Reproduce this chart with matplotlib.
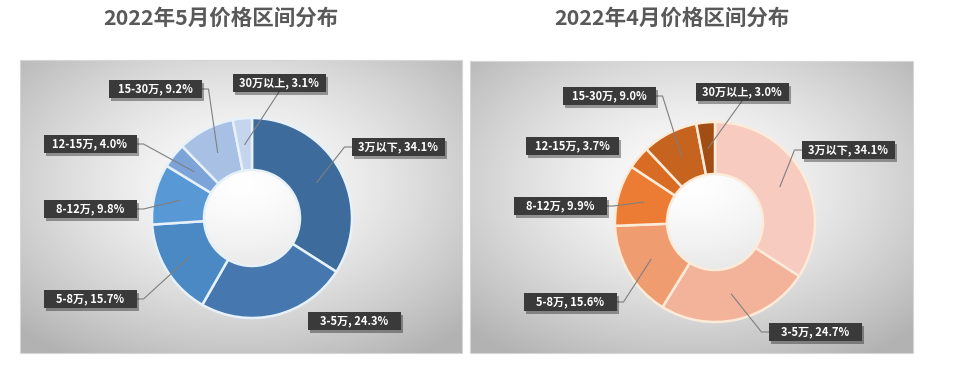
import numpy as np
import matplotlib.pyplot as plt
import matplotlib.patheffects as pe
from matplotlib.patches import Rectangle

plt.rcParams['font.family'] = ['Noto Sans CJK SC', 'DejaVu Sans']

#Data
categories = ['3万以下', '3-5万', '5-8万', '8-12万', '12-15万', '15-30万', '30万以上']
may_share = [34.1, 24.3, 15.7, 9.8, 4.0, 9.2, 3.1]
apr_share = [34.1, 24.7, 15.6, 9.9, 3.7, 9.0, 3.0]
titles = ['2022年5月价格区间分布', '2022年4月价格区间分布']

#Styles
may_colors = ['#3D6B9C', '#4677AE', '#4B89C5', '#5898D5', '#7CA4D9', '#A8C0E3', '#C6D5EE']
apr_colors = ['#F7CBBF', '#F3B39A', '#EE9C70', '#EC7C33', '#D96C24', '#C5631F', '#A24D14']
edge_colors = ['#E6F1FA', '#FDEBD9']

W, H = 960, 373

#Layout in pixels from top-left
panels = [(20, 60, 442, 293), (470, 61, 443, 292)]
centers = [(252, 218), (715, 222)]
title_x = [221, 672]
label_pos = [
    [(398, 147), (354, 321), (90, 299), (90, 209), (90, 144), (155, 89), (279, 83)],
    [(848, 150), (815, 332), (570, 302), (560, 206), (572, 146), (609, 96), (742, 92)],
]
show_leader = [
    [True, False, True, True, True, True, True],
    [True, True, True, True, False, True, True],
]
R_OUT = 100
R_IN = 48
BOX_W, BOX_H = 93, 18


def fy(y):
    #pixel-from-top to plot coordinate
    return H - y


def gradient(w, h):
    xs = np.linspace(-1, 1, w)
    ys = np.linspace(-1, 1, h)
    X, Y = np.meshgrid(xs, ys)
    d = np.sqrt(X**2 + (Y + 0.15)**2) / np.sqrt(2)
    g = 1.0 - 0.30 * np.clip(d, 0, 1)**1.4
    return np.dstack([g, g, g])


fig = plt.figure(figsize=(9.6, 3.73), dpi=100)
ax = fig.add_axes([0, 0, 1, 1])

for i, (vals, cols) in enumerate([(may_share, may_colors), (apr_share, apr_colors)]):
    x0, y0, w, h = panels[i]
    ax.imshow(gradient(w, h), extent=(x0, x0 + w, fy(y0 + h), fy(y0)),
              origin='upper', zorder=0, interpolation='bilinear')
    ax.add_patch(Rectangle((x0, fy(y0 + h)), w, h, fill=False, ec='#D6D6D6', lw=0.8, zorder=1))

    cx, cy = centers[i]
    wedges, _ = ax.pie(vals, colors=cols, startangle=90, counterclock=False,
                       radius=R_OUT, center=(cx, fy(cy)), frame=True,
                       wedgeprops=dict(width=R_OUT - R_IN, edgecolor=edge_colors[i], linewidth=1.8))
    for wdg in wedges:
        wdg.set_zorder(2)

    ax.text(title_x[i], fy(18), titles[i], ha='center', va='center',
            fontsize=15.5, fontweight='heavy', color='#595959')

    r_mid = (R_OUT + R_IN) / 2
    for j, wdg in enumerate(wedges):
        a = np.deg2rad((wdg.theta1 + wdg.theta2) / 2)
        sx = cx + r_mid * np.cos(a)
        sy = fy(cy) + r_mid * np.sin(a)
        bx, by = label_pos[i][j]
        by = fy(by)

        if show_leader[i][j]:
            if bx - BOX_W / 2 <= sx <= bx + BOX_W / 2:
                ey = by - BOX_H / 2 if by > sy else by + BOX_H / 2
                xs_, ys_ = [sx, bx], [sy, ey]
            else:
                if bx > sx:
                    ex = bx - BOX_W / 2
                    elb = ex - 7
                else:
                    ex = bx + BOX_W / 2
                    elb = ex + 7
                xs_, ys_ = [sx, elb, ex], [sy, by, by]
            ax.plot(xs_, ys_, color='#7F7F7F', lw=0.8, zorder=3)

        box = Rectangle((bx - BOX_W / 2, by - BOX_H / 2), BOX_W, BOX_H,
                        fc='#3A3A3A', ec='none', zorder=4)
        box.set_path_effects([pe.withSimplePatchShadow(offset=(2, -2), shadow_rgbFace='k', alpha=0.35),
                              pe.Normal()])
        ax.add_patch(box)
        ax.text(bx, by, f'{categories[j]}, {vals[j]:.1f}%', ha='center', va='center',
                fontsize=8, fontweight='bold', color='white', zorder=5)

ax.set_xlim(0, W)
ax.set_ylim(0, H)
ax.set_aspect('equal')
ax.axis('off')

fig.savefig('out.png', dpi=100, facecolor='white')
